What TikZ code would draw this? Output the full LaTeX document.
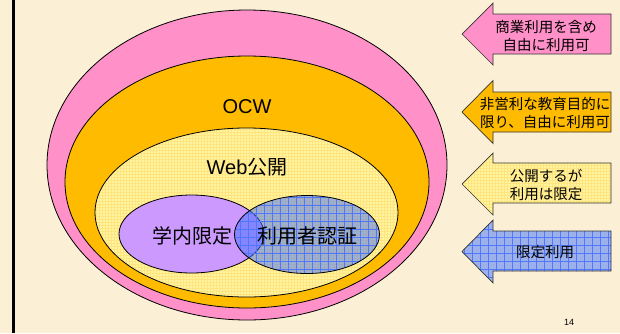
\documentclass[tikz,border=0pt]{standalone}
\usepackage{fontspec}
\setmainfont{Liberation Sans}
\newfontfamily\cjk{Noto Sans CJK JP}
\usetikzlibrary{shapes.geometric,patterns,patterns.meta}
\definecolor{bgc}{HTML}{FBF0D6}
\definecolor{pinkc}{HTML}{FF90C8}
\definecolor{orangec}{HTML}{FFBB00}
\definecolor{yellowc}{HTML}{FFF4A0}
\definecolor{yellowgrid}{HTML}{FFE480}
\definecolor{purplec}{HTML}{CC99FF}
\definecolor{bluec}{HTML}{4072FF}
\definecolor{bluegrid}{HTML}{5078FF}
\tikzset{
  blob/.style={ellipse, draw=black, line width=0.8pt, inner sep=0pt},
  bigtxt/.style={font=\fontsize{20}{24}\selectfont, inner sep=0pt},
  arrtxt/.style={font=\cjk\fontsize{14.5}{18}\selectfont, align=center, inner sep=0pt},
  arrline/.style={draw=black!80, line width=0.7pt, line join=miter},
  yellowfill/.style={preaction={fill=yellowc}, preaction={pattern=grid, pattern color=yellowgrid}},
  bluefill/.style={preaction={fill=bluec, fill opacity=0.5},
                   preaction={pattern={Lines[angle=0,distance=8pt,line width=0.5pt]}, pattern color=bluegrid},
                   preaction={pattern={Lines[angle=90,distance=8pt,line width=0.5pt]}, pattern color=bluegrid}},
}
\begin{document}
\begin{tikzpicture}[x=1pt,y=-1pt]
\useasboundingbox (0,0) rectangle (620,333);
\fill[bgc] (0,0) rectangle (620,333);
\fill[black] (12,0) rectangle (14.5,333);
% ellipses
\node[blob, fill=pinkc, minimum width=400, minimum height=310] (pink) at (247,165) {};
\node[blob, fill=orangec, minimum width=364, minimum height=252] (orange) at (247,182) {};
\node[blob, yellowfill, minimum width=303, minimum height=169] (yellow) at (246.5,212.5) {};
\node[blob, fill=purplec, minimum width=145, minimum height=78] (purple) at (191.5,234) {};
\node[blob, bluefill, minimum width=145, minimum height=78] (blue) at (307,234.5) {};
% labels
\node[bigtxt] (ocw) at (247,107) {OCW};
\node[bigtxt] (web) at (247,167) {Web{\cjk 公開}};
\node[bigtxt, font=\cjk\fontsize{20}{24}\selectfont] (gakunai) at (192,236) {学内限定};
\node[bigtxt, font=\cjk\fontsize{20}{24}\selectfont] (ninsho) at (307.5,236) {利用者認証};
% arrows
\draw[arrline, fill=pinkc] (462,34) -- (493,3) -- (493,14) -- (611,14) -- (611,54) -- (493,54) -- (493,65) -- cycle;
\node[arrtxt] (a1) at (546,36) {商業利用を含め\\自由に利用可};
\draw[arrline, fill=orangec] (462,112) -- (493,80.5) -- (493,92) -- (611,92) -- (611,132) -- (493,132) -- (493,143.5) -- cycle;
\node[arrtxt] (a2) at (545,113) {非営利な教育目的に\\限り、自由に利用可};
\draw[arrline, yellowfill] (462,184) -- (493,153) -- (493,163) -- (611,163) -- (611,203) -- (493,203) -- (493,215) -- cycle;
\node[arrtxt] (a3) at (546,185) {公開するが\\利用は限定};
\draw[arrline, bluefill] (462,251.5) -- (493,220) -- (493,231) -- (611,231) -- (611,271) -- (493,271) -- (493,283) -- cycle;
\node[arrtxt] (a4) at (545,252) {限定利用};
% page number
\node[font=\fontsize{9}{10}\selectfont, inner sep=0pt] (pg) at (569,322) {14};
\end{tikzpicture}
\end{document}
